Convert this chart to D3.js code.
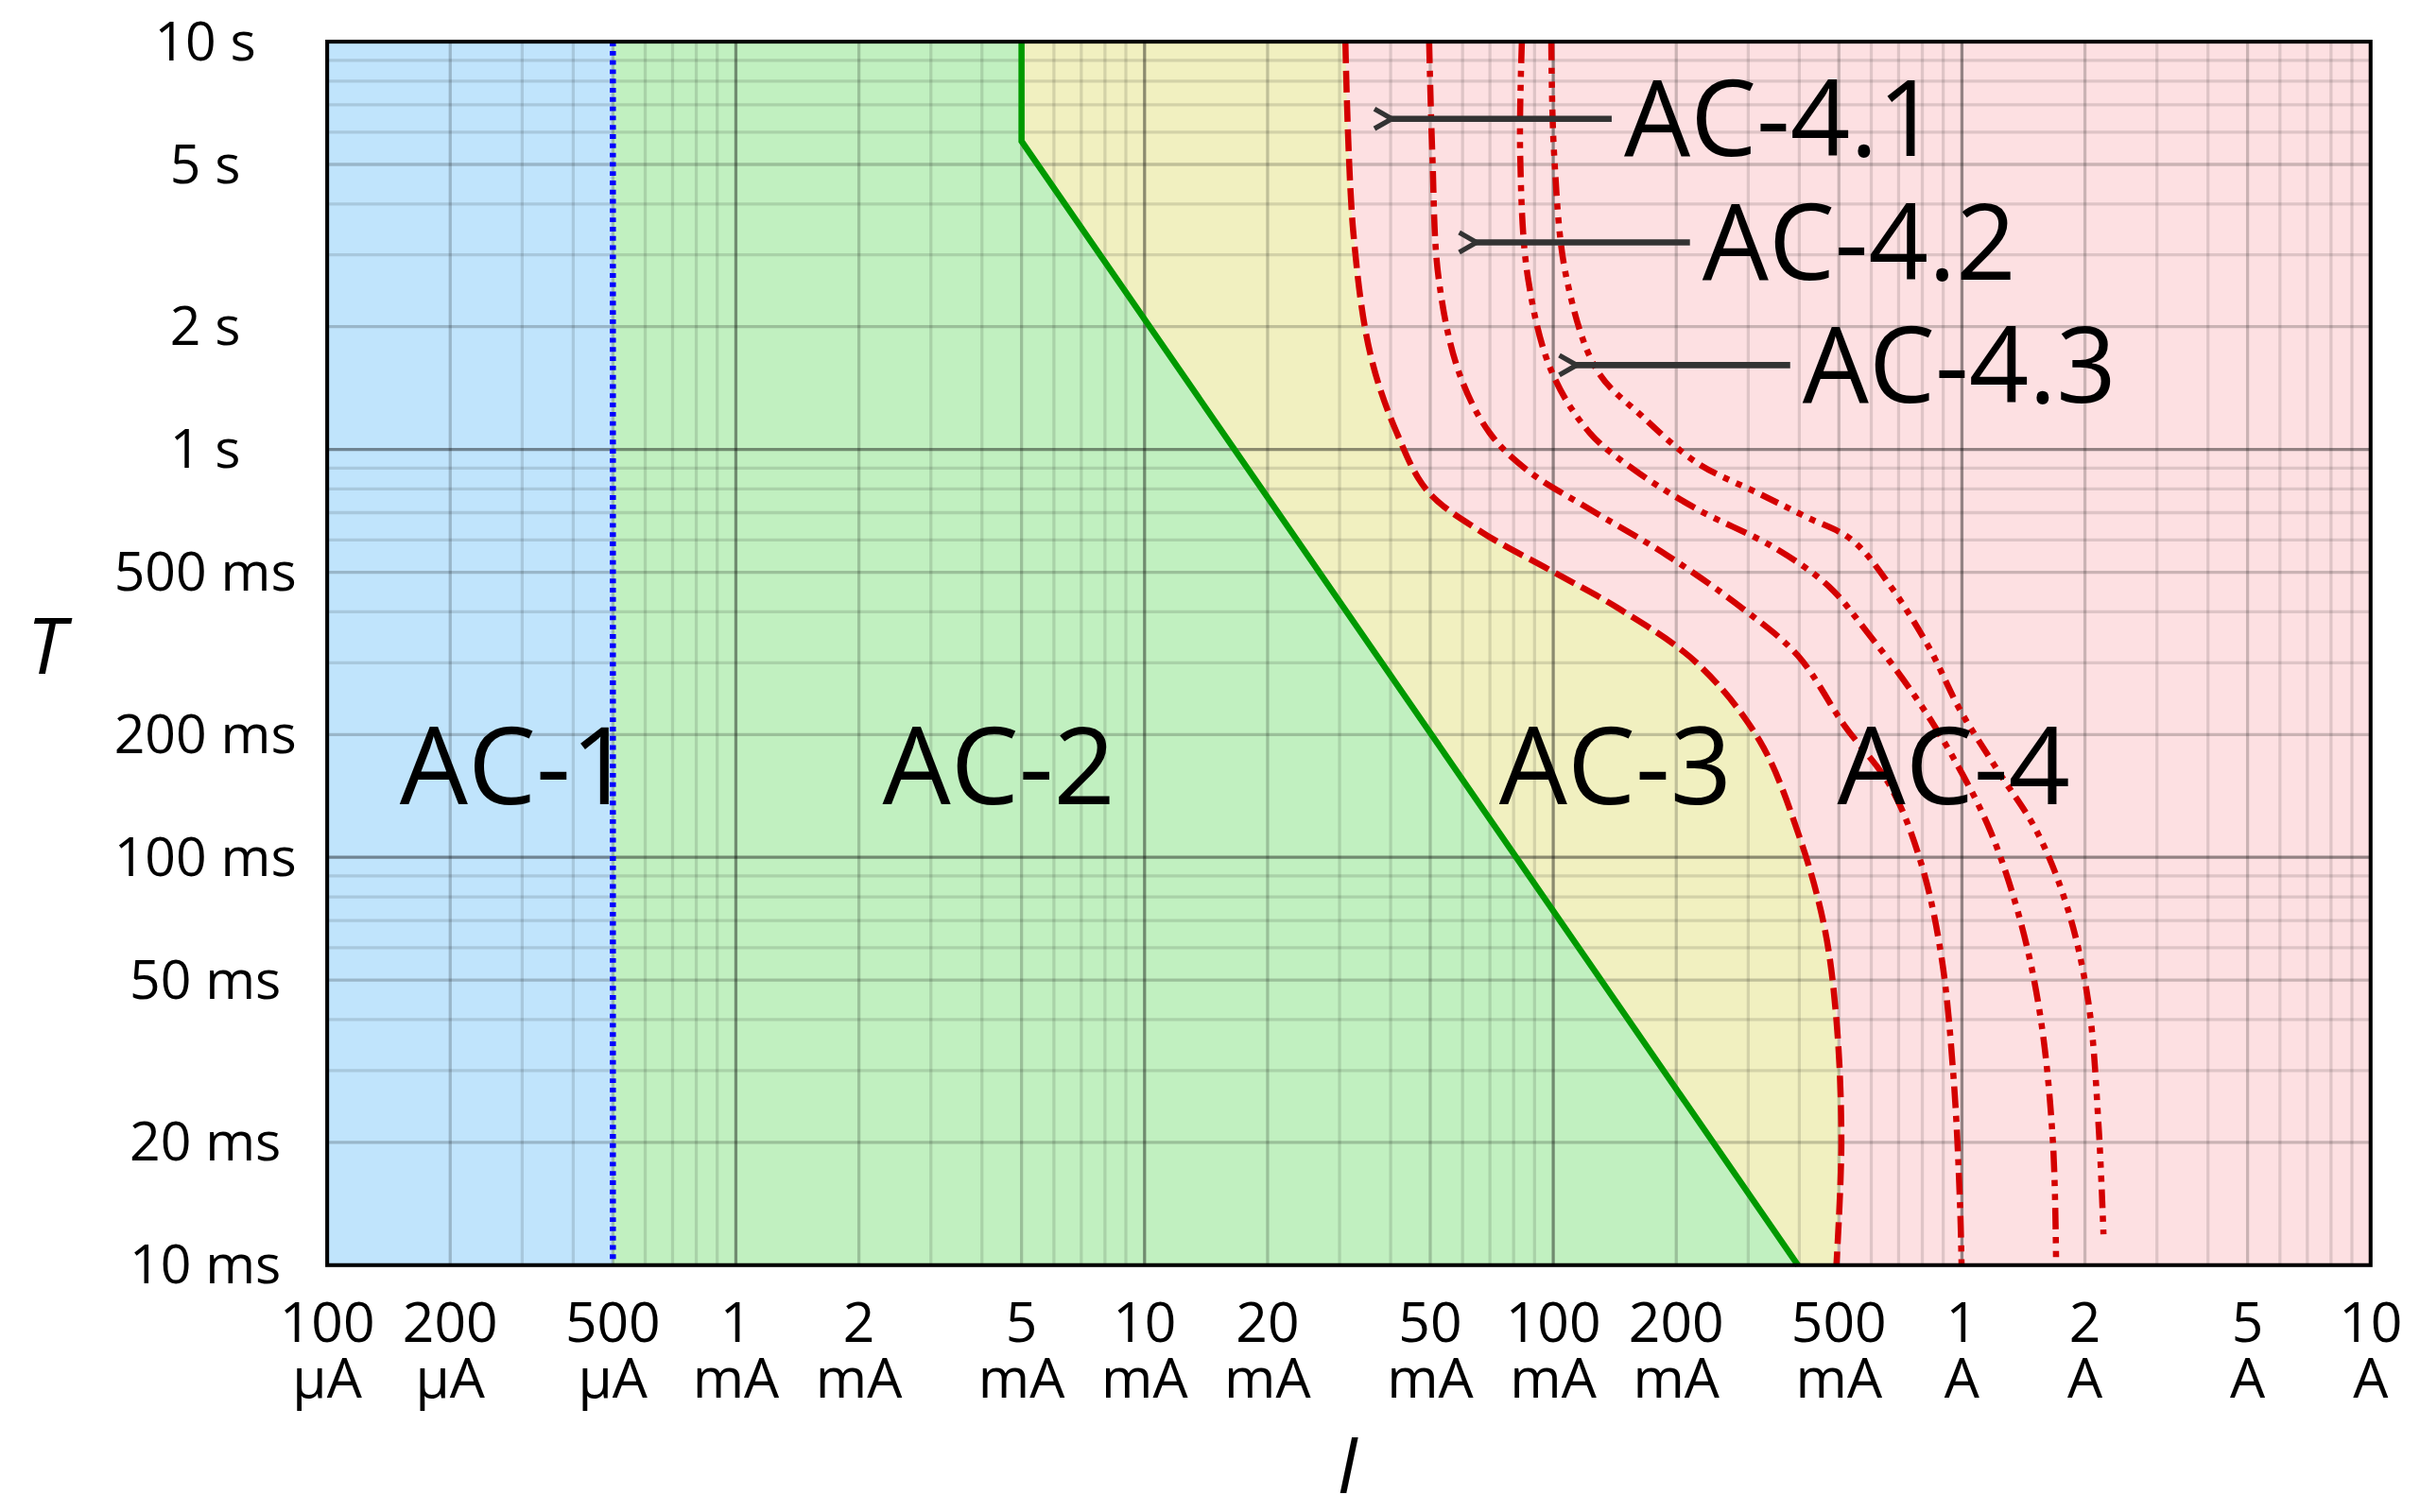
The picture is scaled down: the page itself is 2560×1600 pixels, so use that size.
<!DOCTYPE html>
<html>
<head>
<meta charset="utf-8">
<script src="https://cdn.jsdelivr.net/npm/d3@7"></script>
<style>
  body { margin: 0; background: #fff; }
  text { font-family: "Open Sans", "Noto Sans", sans-serif; }
</style>
</head>
<body>
<svg id="chart" width="2560" height="1600" viewBox="0 0 1568 980"></svg>
<script>
// current [A], time [s]
const xTicks = [1e-4, 2e-4, 5e-4, 1e-3, 2e-3, 5e-3, 1e-2, 2e-2, 5e-2, 0.1, 0.2, 0.5, 1, 2, 5, 10];
const xTickLabels = [["100", "μA"], ["200", "μA"], ["500", "μA"], ["1", "mA"], ["2", "mA"], ["5", "mA"], ["10", "mA"], ["20", "mA"], ["50", "mA"], ["100", "mA"], ["200", "mA"], ["500", "mA"], ["1", "A"], ["2", "A"], ["5", "A"], ["10", "A"]];
const yTicks = [10, 5, 2, 1, 0.5, 0.2, 0.1, 0.05, 0.02, 0.01];
const yTickLabels = ["10 s", "5 s", "2 s", "1 s", "500 ms", "200 ms", "100 ms", "50 ms", "20 ms", "10 ms"];

const ac1Limit = 5e-4;
const curveB = [[0.005, 10], [0.005, 5.7], [0.397, 0.01]];
const curveC1 = [[0.031, 10], [0.0324, 3.43], [0.0357, 1.71], [0.0414, 1.10], [0.0493, 0.79], [0.0669, 0.627], [0.0989, 0.504], [0.146, 0.405], [0.225, 0.299], [0.32, 0.193], [0.397, 0.115], [0.46, 0.068], [0.493, 0.04], [0.507, 0.02], [0.493, 0.01]];
const curveC2 = [[0.0497, 10], [0.0506, 5.3], [0.0524, 2.64], [0.0586, 1.56], [0.0698, 1.10], [0.0867, 0.887], [0.1227, 0.714], [0.19, 0.55], [0.293, 0.405], [0.397, 0.312], [0.515, 0.211], [0.669, 0.149], [0.796, 0.0962], [0.891, 0.057], [0.955, 0.0284], [0.989, 0.0142], [0.998, 0.01]];
const curveC3 = [[0.0838, 10], [0.083, 5.3], [0.0867, 2.64], [0.0989, 1.56], [0.1227, 1.10], [0.159, 0.887], [0.225, 0.714], [0.348, 0.574], [0.472, 0.462], [0.587, 0.356], [0.762, 0.251], [0.948, 0.177], [1.178, 0.115], [1.40, 0.068], [1.56, 0.040], [1.67, 0.020], [1.70, 0.01]];
const curveC4 = [[0.0989, 10], [0.1005, 5.3], [0.1077, 2.64], [0.1282, 1.56], [0.166, 1.20], [0.225, 0.927], [0.32, 0.778], [0.415, 0.684], [0.538, 0.60], [0.669, 0.462], [0.832, 0.326], [0.989, 0.23], [1.23, 0.162], [1.53, 0.115], [1.82, 0.0741], [2.04, 0.044], [2.16, 0.0219], [2.22, 0.0119]];

const zoneLabels = [["AC-1", 2.9e-4], ["AC-2", 4.4e-3], ["AC-3", 0.142], ["AC-4", 0.955]];
const zoneLabelT = 0.135;
// label, arrow tip [I, T], arrow tail I
const arrowLabels = [["AC-4.1", [0.0397, 6.47], 0.139], ["AC-4.2", [0.064, 3.22], 0.216], ["AC-4.3", [0.1125, 1.61], 0.38]];

const svg = d3.select("#chart");
const plotL = 212, plotR = 1536, plotT = 27, plotB = 820;
const x = d3.scaleLog().domain([1e-4, 10]).range([plotL, plotR]);
const y = d3.scaleLog().domain([0.01, 10]).range([plotB, plotT]);

const line = d3.line().x(d => x(d[0])).y(d => y(d[1]));
const smooth = d3.line().x(d => x(d[0])).y(d => y(d[1])).curve(d3.curveCatmullRom.alpha(0.5));

//zones, painted back to front
svg.append("rect").attr("x", plotL).attr("y", plotT).attr("width", plotR - plotL).attr("height", plotB - plotT).attr("fill", "#fde0e2");
svg.append("path")
    .attr("d", smooth(curveC1) + "L" + plotL + "," + plotB + "L" + plotL + "," + plotT + "Z")
    .attr("fill", "#f1f0c0");
svg.append("path")
    .attr("d", line(curveB) + "L" + plotL + "," + plotB + "L" + plotL + "," + plotT + "Z")
    .attr("fill", "#c1f0c0");
svg.append("rect").attr("x", plotL).attr("y", plotT).attr("width", x(ac1Limit) - plotL).attr("height", plotB - plotT).attr("fill", "#c0e4fc");

//grid
const grid = svg.append("g");
function gridAlpha(v) {
    const m = Math.round(v / Math.pow(10, Math.floor(Math.log10(v) + 1e-9)));
    if (m === 1) return 0.42;
    if (m === 5 || m === 2) return 0.2;
    return 0.12;
}
const xGrid = [], yGrid = [];
for (let e = -4; e <= 0; e++) for (let m = 1; m <= 9; m++) xGrid.push(m * Math.pow(10, e));
for (let e = -2; e <= 0; e++) for (let m = 1; m <= 9; m++) yGrid.push(m * Math.pow(10, e));
grid.selectAll(".gx").data(xGrid.slice(1)).join("line")
    .attr("x1", d => x(d)).attr("x2", d => x(d)).attr("y1", plotT).attr("y2", plotB)
    .attr("stroke", "#000").attr("stroke-opacity", gridAlpha).attr("stroke-width", 2);
grid.selectAll(".gy").data(yGrid.slice(1)).join("line")
    .attr("y1", d => y(d)).attr("y2", d => y(d)).attr("x1", plotL).attr("x2", plotR)
    .attr("stroke", "#000").attr("stroke-opacity", gridAlpha).attr("stroke-width", 2);

//boundaries
svg.append("line").attr("x1", x(ac1Limit)).attr("x2", x(ac1Limit)).attr("y1", plotT).attr("y2", plotB)
    .attr("stroke", "#0000ff").attr("stroke-width", 4).attr("stroke-dasharray", "3,3");
svg.append("path").attr("d", line(curveB)).attr("fill", "none").attr("stroke", "#009900").attr("stroke-width", 4);
const redCurves = [[curveC1, "14,5"], [curveC2, "14,5,4,5"], [curveC3, "14,5,4,5,4,5"], [curveC4, "12,5,4,5,4,5,4,5"]];
redCurves.forEach(([c, dash]) => {
    svg.append("path").attr("d", smooth(c)).attr("fill", "none")
        .attr("stroke", "#d40000").attr("stroke-width", 4).attr("stroke-dasharray", dash);
});

//frame
svg.append("rect").attr("x", plotL).attr("y", plotT).attr("width", plotR - plotL).attr("height", plotB - plotT)
    .attr("fill", "none").attr("stroke", "#000").attr("stroke-width", 2.5);

//zone labels
svg.selectAll(".zl").data(zoneLabels).join("text")
    .attr("x", d => x(d[1])).attr("y", y(zoneLabelT))
    .attr("text-anchor", "middle").attr("font-size", 70).attr("fill", "#000")
    .text(d => d[0]);

//arrows
svg.append("defs").append("marker").attr("id", "arr")
    .attr("viewBox", "0 0 10 10").attr("refX", 2).attr("refY", 5)
    .attr("markerWidth", 4).attr("markerHeight", 4).attr("orient", "auto")
    .append("path").attr("d", "M8,1 L1,5 L8,9").attr("fill", "none").attr("stroke", "#333").attr("stroke-width", 2);
arrowLabels.forEach(([label, tip, tail]) => {
    svg.append("line").attr("x1", x(tail)).attr("x2", x(tip[0])).attr("y1", y(tip[1])).attr("y2", y(tip[1]))
        .attr("stroke", "#333").attr("stroke-width", 4).attr("marker-end", "url(#arr)");
    svg.append("text").attr("x", x(tail) + 8).attr("y", y(tip[1]) + 24)
        .attr("font-size", 68).attr("fill", "#000").text(label);
});

//axis labels
svg.selectAll(".yl").data(yTicks).join("text")
    .attr("x", 133).attr("y", d => y(d) + 12).attr("text-anchor", "middle")
    .attr("font-size", 35).text((d, i) => yTickLabels[i]);
const xl = svg.selectAll(".xl").data(xTicks).join("text")
    .attr("text-anchor", "middle").attr("font-size", 36);
xl.append("tspan").attr("x", d => x(d)).attr("y", 870).text((d, i) => xTickLabels[i][0]);
xl.append("tspan").attr("x", d => x(d)).attr("y", 906).text((d, i) => xTickLabels[i][1]);

svg.append("text").attr("x", 873).attr("y", 968).attr("text-anchor", "middle")
    .attr("font-size", 50).attr("font-style", "italic").text("I");
svg.append("text").attr("x", 30).attr("y", 437).attr("text-anchor", "middle")
    .attr("font-size", 50).attr("font-style", "italic").text("T");
</script>
</body>
</html>
